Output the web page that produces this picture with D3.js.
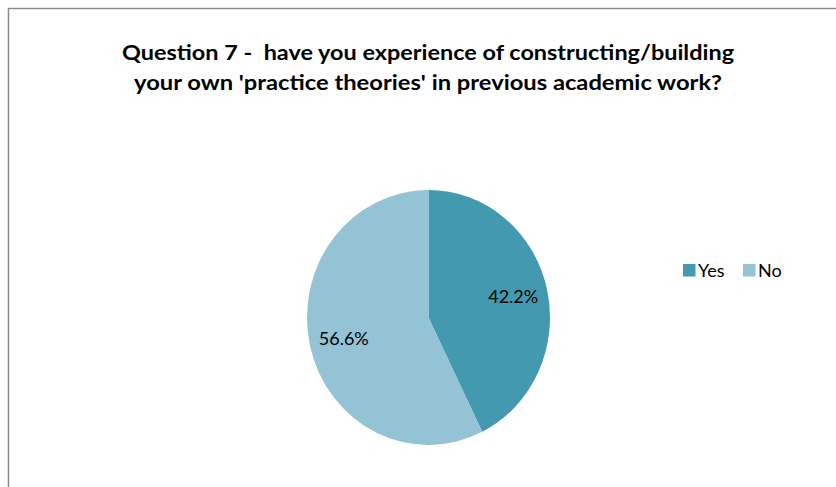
<!DOCTYPE html>
<html>
<head>
<meta charset="utf-8">
<script src="https://cdn.jsdelivr.net/npm/d3@7"></script>
<style>
  body { margin: 0; background: #fff; }
  text { font-family: Lato, "Open Sans", sans-serif; white-space: pre; }
</style>
</head>
<body>
<div id="container"></div>
<script>
/* DATA */
const categories = ["Yes", "No"];
const values = [42.2, 56.6];
const colors = ["#4399B0", "#93C3D5"];
const titleLines = [
  "Question 7 -  have you experience of constructing/building",
  "your own 'practice theories' in previous academic work?"
];

/* CONSTANTS */
const width = 836,
  height = 487,
  cx = 428.5,
  cy = 317.5,
  radius = 121.5,
  yStretch = 127.5 / 121.5; // pie is slightly taller than wide

const svg = d3.select("#container")
  .append("svg")
  .attr("width", width)
  .attr("height", height);

// frame
svg.append("rect")
  .attr("x", 8.5)
  .attr("y", 8.5)
  .attr("width", width + 20)
  .attr("height", height + 20)
  .attr("fill", "none")
  .attr("stroke", "#8c8c8c")
  .attr("stroke-width", 1.5);

// title
svg.append("g")
  .selectAll("text")
  .data(titleLines)
  .join("text")
  .attr("x", 428)
  .attr("y", (d, i) => 60 + i * 30)
  .attr("text-anchor", "middle")
  .attr("font-weight", "bold")
  .attr("font-size", 21)
  .attr("fill", "#000")
  .attr("textLength", (d, i) => i === 0 ? 612 : 588)
  .attr("lengthAdjust", "spacingAndGlyphs")
  .text(d => d);

/* PIE */
const pie = d3.pie().sort(null).value(d => d);
const arcs = pie(values);
const arc = d3.arc().innerRadius(0).outerRadius(radius);
const labelArc = d3.arc().innerRadius(87).outerRadius(87);

const g = svg.append("g")
  .attr("transform", `translate(${cx},${cy})`);

g.append("g")
  .attr("transform", `scale(1,${yStretch})`)
  .selectAll("path")
  .data(arcs)
  .join("path")
  .attr("d", arc)
  .attr("fill", (d, i) => colors[i]);

g.selectAll("text.label")
  .data(arcs)
  .join("text")
  .attr("class", "label")
  .attr("x", d => labelArc.centroid(d)[0])
  .attr("y", d => labelArc.centroid(d)[1] * yStretch)
  .attr("dy", "0.35em")
  .attr("text-anchor", "middle")
  .attr("font-size", 18)
  .attr("fill", "#000")
  .text(d => d3.format(".1f")(d.data) + "%");

/* LEGEND */
const legend = svg.append("g")
  .attr("transform", "translate(683,264)");

const item = legend.selectAll("g")
  .data(categories)
  .join("g")
  .attr("transform", (d, i) => `translate(${i * 60},0)`);

item.append("rect")
  .attr("width", 12.5)
  .attr("height", 12.5)
  .attr("fill", (d, i) => colors[i]);

item.append("text")
  .attr("x", 15)
  .attr("y", 6.5)
  .attr("dy", "0.35em")
  .attr("font-size", 18)
  .attr("fill", "#000")
  .text(d => d);
</script>
</body>
</html>
